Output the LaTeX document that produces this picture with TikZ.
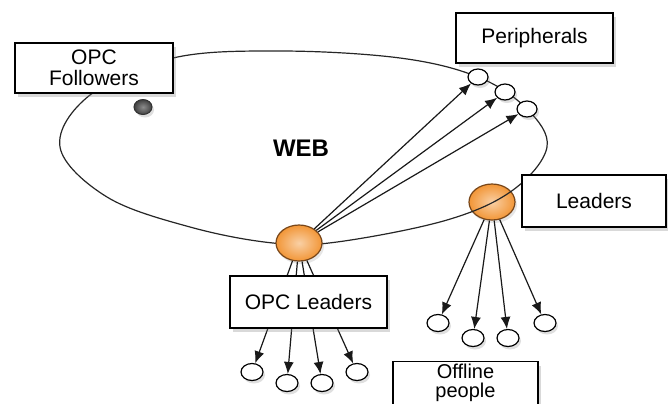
\documentclass[tikz,border=0pt]{standalone}
\usepackage{fontspec}
\setmainfont{Liberation Sans}
\usetikzlibrary{arrows.meta,shadows,shapes.geometric}
\definecolor{leadorange}{RGB}{242,150,55}
\definecolor{leadrim}{RGB}{120,70,25}
\tikzset{
  >={Latex[length=6pt,width=5pt]},
  lbox/.style={draw=black,line width=0.7pt,fill=white,align=center,
    font=\fontsize{10.5}{10.5}\selectfont,inner sep=2pt,
    drop shadow={opacity=0.3,shadow xshift=1.5pt,shadow yshift=-2pt}},
  ldot/.style={ellipse,draw=leadrim,line width=0.6pt,minimum width=23pt,
    minimum height=18pt,inner sep=0pt,inner color=leadorange!45!white,
    outer color=leadorange,
    drop shadow={opacity=0.2,shadow xshift=1pt,shadow yshift=-1.5pt}},
  pdot/.style={ellipse,draw=black,line width=0.6pt,fill=white,
    minimum width=10pt,minimum height=8pt,inner sep=0pt,
    drop shadow={opacity=0.25,shadow xshift=1pt,shadow yshift=-1.5pt}},
  cdot/.style={pdot,minimum width=11pt,minimum height=8.5pt},
  fdot/.style={ellipse,draw=black!80,line width=0.5pt,minimum width=9pt,
    minimum height=7.5pt,inner sep=0pt,inner color=black!45,
    outer color=black!75,
    drop shadow={opacity=0.25,shadow xshift=1pt,shadow yshift=-1.5pt}},
  webline/.style={line width=0.6pt,black!85},
  infl/.style={->,line width=0.6pt,black!90},
}

\begin{document}
\begin{tikzpicture}[x=0.5pt,y=-0.5pt]
  \useasboundingbox (0,0) rectangle (668,403);
  \clip (0,0) rectangle (668,403);
  \node[ldot] (ldr) at (492,202) {};
  % the web
  \draw[webline] plot[smooth cycle,tension=0.6] coordinates {
    (60,147) (90,95) (173,58) (280,51) (400,58) (478,77) (527,109)
    (547,147) (513,190) (447,220) (337,242) (273,243) (190,227) (107,197)};
  \node[pdot] (per1) at (478,77) {};
  \node[pdot] (per2) at (505,92) {};
  \node[pdot] (per3) at (527,109) {};
  \node[fdot] (folw) at (143,107) {};
  \node[ldot] (opcl) at (299,243) {};
  \node[cdot] (oc1) at (252,372) {};
  \node[cdot] (oc2) at (287,383) {};
  \node[cdot] (oc3) at (322,383) {};
  \node[cdot] (oc4) at (357,372) {};
  \node[cdot] (lc1) at (438,323) {};
  \node[cdot] (lc2) at (473,338) {};
  \node[cdot] (lc3) at (508,338) {};
  \node[cdot] (lc4) at (545,323) {};
  \foreach \p in {per1,per2,per3}
    \draw[infl] (opcl) -- (\p);
  \foreach \c in {oc1,oc2,oc3,oc4}
    \draw[infl] (opcl) -- (\c);
  \foreach \c in {lc1,lc2,lc3,lc4}
    \draw[infl] (ldr) -- (\c);
  \node[lbox,minimum width=79pt,minimum height=25pt] (followers) at (94,68) {OPC\\Followers};
  \node[lbox,minimum width=78.5pt,minimum height=25pt] (peripherals) at (534.5,38) {Peripherals};
  \node[lbox,minimum width=72pt,minimum height=26pt] (leaders) at (594,201) {Leaders};
  \node[lbox,minimum width=78.5pt,minimum height=26pt] (opcleaders) at (308.5,302) {OPC Leaders};
  \node[lbox,anchor=north,minimum width=72.5pt,inner ysep=1pt,text depth=12pt,
    font=\fontsize{10}{9.5}\selectfont] (offline) at (465.5,361) {Offline\\people};
  \node[font=\fontsize{12}{12}\selectfont\bfseries] (web) at (301,148) {WEB};
\end{tikzpicture}
\end{document}
